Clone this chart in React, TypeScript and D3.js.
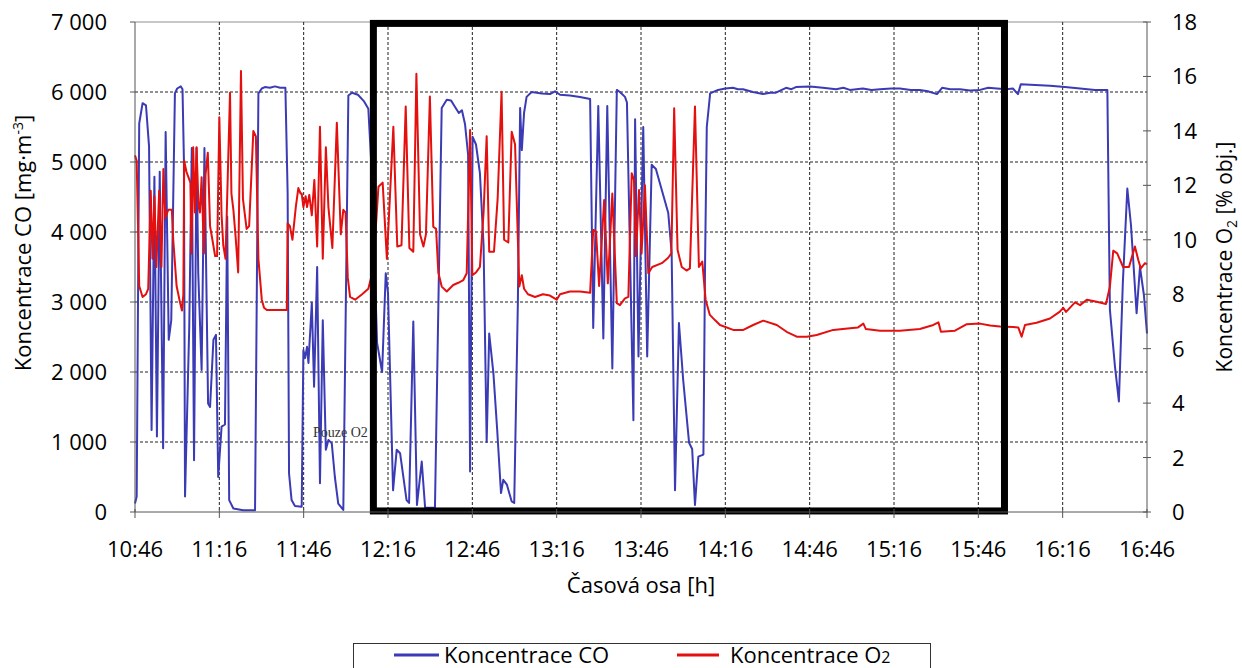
import React from 'react';
import * as d3 from 'd3';

// x axis labels, one every 30 minutes from 10:46
const timeLabels = ['10:46', '11:16', '11:46', '12:16', '12:46', '13:16', '13:46', '14:16', '14:46', '15:16', '15:46', '16:16', '16:46'];
const coTicks = [0, 1000, 2000, 3000, 4000, 5000, 6000, 7000];
const o2Ticks = [0, 2, 4, 6, 8, 10, 12, 14, 16, 18];

// minutes after 10:46 / CO [mg.m-3]
const coMinutes = [
  0, 0.6, 1.5, 2.7, 3.9, 5.0, 5.9, 6.9, 7.8, 8.8,
  10.0, 10.9, 12.0, 12.9, 14.2, 15.0, 16.3, 16.9, 17.4, 17.8,
  19.3, 20.2, 21.0, 21.9, 22.5, 23.7, 24.7, 26.0, 26.7, 27.9,
  28.8, 29.6, 30.8, 32.0, 32.8, 33.5, 35.0, 38.5, 42.7, 43.9,
  45.1, 46.2, 48.0, 49.8, 51.6, 53.5, 54.3, 54.8, 55.7, 56.9,
  59.3, 59.9, 60.5, 61.2, 61.7, 62.9, 63.7, 64.8, 65.8, 66.8,
  67.9, 68.8, 70.0, 71.1, 72.3, 74.1, 75.9, 77.2, 79.3, 81.4,
  83.0, 84.3, 86.1, 87.9, 89.2, 90.0, 91.8, 93.1, 94.3, 96.6,
  97.5, 99.0, 100.3, 102.0, 103.2, 106.7, 109.1, 110.9, 112.4, 113.8,
  115.2, 116.3, 117.4, 118.5, 119.2, 120.1, 121.3, 122.7, 124.0, 125.1,
  126.0, 127.5, 128.8, 130.2, 131.0, 132.3, 134.0, 134.9, 136.2, 137.0,
  137.6, 138.4, 139.3, 141.1, 144.7, 147.6, 149.4, 151.2, 154.7, 158.3,
  161.9, 163.0, 164.8, 166.6, 168.0, 169.8, 171.4, 172.5, 174.3, 175.0,
  177.3, 177.9, 179.1, 180.8, 182.2, 183.8, 185.3, 187.4, 189.7, 190.9,
  192.1, 193.5, 195.0, 197.1, 198.2, 199.2, 200.4, 202.2, 202.8, 203.4,
  204.6, 207.4, 210.0, 212.7, 214.5, 216.3, 219.8, 223.4, 226.0, 228.0,
  231.6, 233.5, 235.1, 240.1, 244.7, 249.4, 252.0, 254.3, 258.9, 262.0,
  265.0, 269.0, 272.1, 276.0, 279.2, 282.0, 285.3, 287.1, 290.0, 293.5,
  297.0, 300.6, 303.5, 306.6, 310.0, 312.3, 314.1, 315.1, 320.2, 325.5,
  330.8, 336.2, 341.5, 345.9, 346.8, 348.6, 350.0, 351.4, 353.0, 354.3,
  356.3, 357.5, 358.9, 360
];
const coValues = [
  120, 220, 5550, 5840, 5810, 5220, 1170, 4790, 1080, 4860,
  910, 5430, 2460, 2740, 5980, 6050, 6080, 6040, 5030, 220,
  2650, 5200, 740, 5200, 3410, 2030, 5200, 1550, 1500, 2460,
  2530, 500, 1220, 1250, 4220, 170, 50, 25, 25, 5980,
  6050, 6070, 6060, 6080, 6060, 6060, 4550, 550, 170, 85,
  75, 2310, 2200, 2360, 2130, 2990, 1790, 3500, 410, 2740,
  890, 1030, 980, 500, 120, 30, 5950, 5990, 5960, 5870,
  5760, 4800, 2420, 2000, 3410, 3130, 310, 890, 840, 170,
  130, 2720, 100, 720, 60, 60, 5770, 5890, 5880, 5790,
  5700, 5740, 5540, 5100, 580, 5360, 5250, 4840, 3800, 1000,
  2550, 1980, 1200, 270, 460, 390, 150, 130, 3000, 5770,
  5170, 5700, 5930, 6000, 5980, 5970, 6010, 5960, 5950, 5930,
  5900, 2630, 5800, 2480, 5800, 2050, 6030, 6000, 5930, 5850,
  1310, 5610, 2220, 5500, 2220, 4960, 4900, 4600, 4270, 3700,
  310, 2700, 1890, 990, 900, 100, 790, 820, 3600, 5500,
  5980, 6030, 6050, 6060, 6040, 6040, 6000, 5970, 5990, 5990,
  6060, 6040, 6070, 6080, 6060, 6040, 6060, 6030, 6050, 6030,
  6040, 6050, 6050, 6030, 6030, 6010, 5970, 6060, 6040, 6040,
  6020, 6030, 6060, 6050, 6040, 6050, 5970, 6110, 6100, 6090,
  6070, 6050, 6030, 6030, 2890, 2080, 1580, 3270, 4620, 4100,
  2840, 3500, 3100, 2550
];

// minutes after 10:46 / O2 [% obj.]
const o2Minutes = [
  0, 0.6, 1.5, 2.7, 3.9, 4.7, 5.6, 6.2, 6.9, 7.6,
  8.6, 9.4, 10.1, 10.8, 11.8, 13.1, 13.6, 14.8, 16.0, 16.7,
  17.2, 17.5, 18.3, 19.0, 19.7, 20.1, 20.7, 21.3, 21.9, 22.6,
  23.1, 23.7, 24.5, 25.1, 25.9, 26.7, 27.7, 28.5, 29.2, 30.0,
  30.8, 31.4, 32.2, 33.8, 34.3, 35.0, 35.8, 36.7, 37.7, 38.4,
  39.7, 40.6, 42.1, 43.0, 43.9, 45.1, 45.9, 46.9, 49.8, 54.0,
  54.3, 55.1, 56.0, 57.2, 58.1, 58.9, 59.3, 59.9, 60.7, 61.2,
  62.0, 62.9, 63.8, 64.8, 65.8, 66.8, 67.9, 68.8, 70.2, 71.8,
  73.2, 74.1, 74.9, 75.7, 76.5, 78.3, 80.8, 83.0, 84.7, 86.6,
  88.1, 89.6, 91.9, 93.3, 94.8, 96.3, 97.6, 99.0, 100.1, 101.4,
  102.6, 103.5, 104.9, 106.1, 107.1, 107.9, 109.1, 110.9, 113.2, 115.0,
  116.8, 118.0, 119.2, 120.0, 121.3, 122.7, 124.0, 125.1, 126.0, 127.7,
  129.0, 130.4, 131.3, 132.8, 134.0, 135.2, 136.7, 137.6, 138.4, 139.8,
  142.3, 145.1, 147.6, 150.0, 151.2, 154.7, 158.3, 161.9, 163.0, 164.0,
  165.1, 166.9, 168.2, 169.8, 171.4, 172.5, 174.3, 175.5, 176.7, 177.5,
  178.2, 179.3, 180.2, 181.4, 182.6, 184.0, 187.4, 189.6, 190.8, 191.8,
  193.0, 194.5, 196.2, 197.4, 199.2, 200.6, 201.8, 203.0, 204.5, 206.3,
  208.1, 212.8, 216.4, 219.9, 223.5, 228.3, 231.8, 235.4, 239.0, 242.5,
  248.4, 254.4, 257.2, 259.1, 260.0, 265.0, 272.1, 279.2, 284.0, 285.8,
  286.7, 291.7, 295.9, 300.6, 304.2, 307.7, 312.4, 314.2, 315.4, 316.6,
  320.7, 325.5, 329.0, 330.2, 331.2, 334.4, 336.2, 338.6, 342.1, 345.4,
  346.8, 348.0, 349.4, 351.5, 353.6, 355.7, 356.9, 357.8, 359.3, 360
];
const o2Values = [
  13.1, 12.9, 8.3, 7.9, 8.0, 8.2, 11.8, 9.3, 11.6, 9.0,
  11.8, 9.0, 12.6, 10.8, 11.1, 11.1, 10.0, 8.3, 7.7, 7.4,
  8.0, 12.9, 12.5, 12.3, 12.1, 9.5, 13.4, 11.0, 13.4, 11.2,
  11.0, 12.3, 9.5, 12.4, 13.2, 10.5, 9.9, 9.4, 9.4, 14.5,
  10.9, 9.8, 9.3, 15.4, 11.7, 11.1, 10.1, 8.8, 16.2, 11.5,
  10.4, 10.5, 14.0, 13.8, 9.3, 7.8, 7.5, 7.42, 7.42, 7.42,
  10.6, 10.5, 10.0, 11.2, 11.9, 11.7, 11.7, 11.2, 11.6, 11.2,
  11.65, 10.9, 12.2, 9.75, 14.15, 9.3, 13.4, 11.2, 9.7, 14.3,
  10.2, 11.1, 11.0, 8.6, 7.9, 7.8, 8.0, 8.2, 8.9, 11.95,
  12.1, 9.3, 14.15, 9.75, 9.8, 14.9, 9.7, 9.56, 16.1, 10.2,
  9.75, 10.2, 15.26, 10.48, 10.4, 8.8, 8.28, 8.1, 8.34, 8.42,
  8.52, 8.77, 14.03, 8.7, 8.8, 9.0, 11.0, 13.8, 9.56, 9.56,
  11.5, 15.44, 10.0, 9.9, 13.97, 13.5, 8.28, 8.7, 8.2, 8.0,
  7.9, 8.0, 7.95, 7.8, 8.0, 8.1, 8.1, 8.05, 10.36, 10.3,
  8.3, 11.46, 8.4, 11.7, 7.67, 7.6, 7.85, 7.9, 12.44, 12.2,
  9.4, 11.83, 9.5, 12.0, 8.77, 9.0, 9.14, 9.33, 9.5, 14.83,
  9.63, 9.0, 8.87, 8.95, 14.9, 9.0, 9.2, 7.79, 7.24, 7.05,
  6.87, 6.69, 6.69, 6.87, 7.03, 6.87, 6.62, 6.44, 6.44, 6.5,
  6.69, 6.75, 6.78, 6.92, 6.72, 6.66, 6.66, 6.72, 6.87, 6.97,
  6.62, 6.66, 6.9, 6.92, 6.85, 6.81, 6.8, 6.78, 6.44, 6.87,
  6.95, 7.11, 7.36, 7.5, 7.35, 7.7, 7.6, 7.8, 7.72, 7.64,
  8.28, 9.6, 9.5, 9.0, 9.0, 9.75, 9.26, 8.95, 9.14, 9.1
];

// highlighted period (minutes after 10:46) and the "Pouze O2" note
const highlightFrom = 84.8;
const highlightTo = 309.3;
const noteMinute = 63.3;
const noteCo = 1070;

const width = 1242;
const height = 668;
const left = 135;
const right = 1147;
const top = 22;
const bottom = 512;

const font = '"Open Sans", sans-serif';
const blue = '#3b3bb5';
const red = '#e3100f';

const fmtThousands = d3.formatLocale({ decimal: ',', thousands: ' ', grouping: [3], currency: ['', ''] }).format(',');

export default function App() {
  const x = d3.scaleLinear().domain([0, 360]).range([left, right]);
  const yCo = d3.scaleLinear().domain([0, 7000]).range([bottom, top]);
  const yO2 = d3.scaleLinear().domain([0, 18]).range([bottom, top]);

  const coLine = d3.line<number>()
    .x((d, i) => x(coMinutes[i]))
    .y((d) => yCo(d));
  const o2Line = d3.line<number>()
    .x((d, i) => x(o2Minutes[i]))
    .y((d) => yO2(d));

  const tickMinutes = timeLabels.map((t, i) => i * 30);

  return (
    <svg width={width} height={height} style={{ position: 'absolute', left: 0, top: 0, background: '#fff' }}>
      {/* grid */}
      <line x1={left} x2={right} y1={top} y2={top} stroke="#8f8f8f" strokeWidth={1} />
      {coTicks.filter((t) => t > 0 && t < 7000).map((t) => (
        <line key={'h' + t} x1={left} x2={right} y1={yCo(t)} y2={yCo(t)}
          stroke="#222" strokeWidth={1} strokeDasharray="3,2" />
      ))}
      {tickMinutes.filter((m) => m > 0 && m < 360).map((m) => (
        <line key={'v' + m} x1={x(m)} x2={x(m)} y1={top} y2={bottom}
          stroke="#222" strokeWidth={1} strokeDasharray="3,2" />
      ))}

      {/* series */}
      <path d={coLine(coValues) || ''} fill="none" stroke={blue} strokeWidth={2} strokeLinejoin="round" />
      <path d={o2Line(o2Values) || ''} fill="none" stroke={red} strokeWidth={2} strokeLinejoin="round" />

      <text x={x(noteMinute)} y={yCo(noteCo)} fontFamily='"Liberation Serif", serif' fontSize={14} fill="#333">Pouze O2</text>

      {/* highlighted period */}
      <rect x={x(highlightFrom)} y={yCo(6980)} width={x(highlightTo) - x(highlightFrom)} height={yCo(15) - yCo(6980)}
        fill="none" stroke="#000" strokeWidth={7} />

      {/* axes */}
      <line x1={left} x2={left} y1={top} y2={bottom} stroke="#555" strokeWidth={1} />
      <line x1={right} x2={right} y1={top} y2={bottom} stroke="#555" strokeWidth={1} />
      <line x1={left} x2={right} y1={bottom} y2={bottom} stroke="#555" strokeWidth={1} />
      {coTicks.map((t) => (
        <g key={'lt' + t}>
          <line x1={left - 5} x2={left} y1={yCo(t)} y2={yCo(t)} stroke="#555" />
          <text x={107} y={yCo(t) + 8} textAnchor="end" fontFamily={font} fontSize={22} fill="#000">{fmtThousands(t)}</text>
        </g>
      ))}
      {o2Ticks.map((t) => (
        <g key={'rt' + t}>
          <line x1={right - 4} x2={right + 4} y1={yO2(t)} y2={yO2(t)} stroke="#555" />
          <text x={1172} y={yO2(t) + 8} fontFamily={font} fontSize={22} fill="#000">{t}</text>
        </g>
      ))}
      {tickMinutes.map((m, i) => (
        <g key={'xt' + m}>
          <line x1={x(m)} x2={x(m)} y1={bottom - 3} y2={bottom + 6} stroke="#555" />
          <text x={x(m)} y={557} textAnchor="middle" fontFamily={font} fontSize={22} fill="#000">{timeLabels[i]}</text>
        </g>
      ))}

      {/* titles */}
      <text x={(left + right) / 2} y={593} textAnchor="middle" fontFamily={font} fontSize={22} fill="#000">Časová osa [h]</text>
      <text transform="translate(23,243) rotate(-90)" dy="0.35em" textAnchor="middle" fontFamily={font} fontSize={22} fill="#000">
        Koncentrace CO [mg·m<tspan dy={-8} fontSize={14}>-3</tspan><tspan dy={8}>]</tspan>
      </text>
      <text transform="translate(1225,257) rotate(-90)" dy="0.35em" textAnchor="middle" fontFamily={font} fontSize={21} fill="#000">
        Koncentrace O<tspan dy={5} fontSize={14}>2</tspan><tspan dy={-5}> [% obj.]</tspan>
      </text>

      {/* legend */}
      <rect x={353.5} y={643.5} width={577} height={40} fill="none" stroke="#333" strokeWidth={1} />
      <line x1={394} x2={439} y1={655} y2={655} stroke={blue} strokeWidth={3} />
      <text x={444} y={663} fontFamily={font} fontSize={22} fill="#000">Koncentrace CO</text>
      <line x1={677} x2={719} y1={655} y2={655} stroke={red} strokeWidth={3} />
      <text x={730} y={663} fontFamily={font} fontSize={22} fill="#000">
        Koncentrace O<tspan fontSize={16}>2</tspan>
      </text>
    </svg>
  );
}
